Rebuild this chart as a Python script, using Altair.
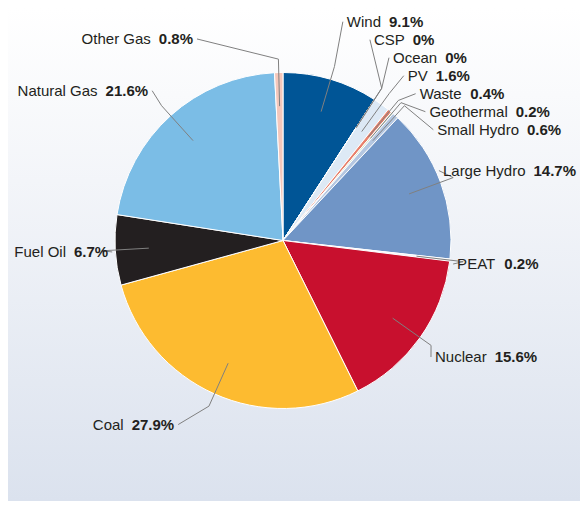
import math
import altair as alt
import pandas as pd

# ---------------- data ----------------
categories = ["Wind", "CSP", "Ocean", "PV", "Waste", "Geothermal", "Small Hydro",
              "Large Hydro", "PEAT", "Nuclear", "Coal", "Fuel Oil", "Natural Gas", "Other Gas"]
shares = [9.1, 0.0, 0.0, 1.6, 0.4, 0.2, 0.6, 14.7, 0.2, 15.6, 27.9, 6.7, 21.6, 0.8]
share_text = ["9.1%", "0%", "0%", "1.6%", "0.4%", "0.2%", "0.6%", "14.7%", "0.2%",
              "15.6%", "27.9%", "6.7%", "21.6%", "0.8%"]
slice_colors = ["#005596", "#ffffff", "#ffffff", "#dde9f5", "#e8806b", "#d5e3c4", "#b4c7e1",
                "#7095c6", "#eef1f7", "#c8102e", "#fdbb30", "#231f20", "#7bbde6", "#f4c7bb"]

# ---------------- layout constants ----------------
W, H = 572, 493
CX, CY, R = 275.0, 232.5, 168.0
FONT = "Liberation Sans"
FS = 15
TXT = "#231f20"
LINE = "#808080"

XDOM = [-CX / R, (W - CX) / R]
YDOM = [-(H - CY) / R, CY / R]
xs = alt.Scale(domain=XDOM, nice=False, zero=False)
ys = alt.Scale(domain=YDOM, nice=False, zero=False)

REG = {' ': 278, 'A': 667, 'C': 722, 'D': 722, 'E': 667, 'F': 611, 'G': 778, 'H': 722,
       'L': 556, 'N': 722, 'O': 778, 'P': 667, 'S': 667, 'T': 611, 'V': 667, 'W': 944,
       'a': 556, 'b': 556, 'c': 500, 'd': 556, 'e': 556, 'f': 278, 'g': 556, 'h': 556,
       'i': 222, 'l': 222, 'm': 833, 'n': 556, 'o': 556, 'r': 333, 's': 500, 't': 278,
       'u': 556, 'y': 500}
BOLD = {'.': 278, '%': 889}


def text_w(s, bold=False):
    tot = 0
    for ch in s:
        if bold:
            tot += BOLD.get(ch, 556)
        else:
            tot += REG.get(ch, 556)
    return tot / 1000.0 * FS


total = sum(shares)
mids = []
cum = 0.0
for v in shares:
    mids.append((cum + v / 2.0) / total * 2 * math.pi)
    cum += v


def pt(a, r):
    return CX + r * math.sin(a), CY - r * math.cos(a)


GAP = 18.0
NGAP = 8.0
YMIN, YMAX = 10.0, H - 10.0


def resolve(idx):
    ideal = {i: CY - 1.2 * R * math.cos(mids[i]) for i in idx}
    order = sorted(idx, key=lambda i: (ideal[i], mids[i]))
    clusters = [[i] for i in order]

    def place(cl):
        c = sum(ideal[i] for i in cl) / len(cl)
        top = c - (len(cl) - 1) * GAP / 2
        top = max(YMIN, min(top, YMAX - (len(cl) - 1) * GAP))
        return top

    changed = True
    while changed:
        changed = False
        for k in range(len(clusters) - 1):
            a, b = clusters[k], clusters[k + 1]
            bottom_a = place(a) + (len(a) - 1) * GAP
            if bottom_a + GAP > place(b):
                clusters[k] = a + b
                del clusters[k + 1]
                changed = True
                break
    ypos = {}
    for cl in clusters:
        top = place(cl)
        for j, i in enumerate(cl):
            ypos[i] = top + j * GAP
    return ypos


right = [i for i in range(len(shares)) if math.sin(mids[i]) > 0]
left = [i for i in range(len(shares)) if math.sin(mids[i]) <= 0]
ypos = {}
ypos.update(resolve(right))
ypos.update(resolve(left))

A, B = 175.0, 235.0
label_rows, leader_rows = [], []
for i, cat in enumerate(categories):
    y = ypos[i]
    dx = A * math.sqrt(max(0.0, 1 - ((y - CY) / B) ** 2))
    wn = text_w(cat)
    wv = text_w(share_text[i], bold=True)
    full = wn + NGAP + wv
    if i in right:
        x = min(CX + dx, W - full - 4)
        nx, vx, ex = x, x + wn + NGAP, x - 4
        side = "R"
    else:
        x = max(CX - dx, full + 4)
        vx, nx, ex = x, x - wv - NGAP, x + 4
        side = "L"
    label_rows.append({"cat": cat, "val": share_text[i], "side": side,
                       "nx": (nx - CX) / R, "vx": (vx - CX) / R, "y": (CY - y) / R})
    p1 = pt(mids[i], 0.8 * R)
    p2 = pt(mids[i], 1.08 * R)
    p3 = (ex, y)
    for k, (px, py) in enumerate([p1, p2, p3]):
        leader_rows.append({"cat": cat, "k": k, "x": (px - CX) / R, "y": (CY - py) / R})

pie_df = pd.DataFrame({"cat": categories, "share": shares, "idx": list(range(len(categories)))})
lab_df = pd.DataFrame(label_rows)
lead_df = pd.DataFrame(leader_rows)
bg_df = pd.DataFrame({"x0": [XDOM[0]], "x1": [XDOM[1]], "y0": [YDOM[0]], "y1": [YDOM[1]]})

grad = alt.LinearGradient(gradient="linear",
                          stops=[alt.GradientStop(color="#ffffff", offset=0),
                                 alt.GradientStop(color="#f3f5f9", offset=0.35),
                                 alt.GradientStop(color="#dbe2ee", offset=1)],
                          x1=0, x2=0, y1=0, y2=1)

bg = alt.Chart(bg_df).mark_rect(color=grad).encode(
    x=alt.X("x0:Q", scale=xs, axis=None), x2="x1:Q",
    y=alt.Y("y0:Q", scale=ys, axis=None), y2="y1:Q")

pie = alt.Chart(pie_df).mark_arc(outerRadius=R, x=CX, y=CY, stroke="white", strokeWidth=1).encode(
    theta=alt.Theta("share:Q", stack=True),
    order=alt.Order("idx:Q", sort="ascending"),
    color=alt.Color("cat:N", scale=alt.Scale(domain=categories, range=slice_colors), legend=None))

leaders = alt.Chart(lead_df).mark_line(color=LINE, strokeWidth=1).encode(
    x=alt.X("x:Q", scale=xs, axis=None), y=alt.Y("y:Q", scale=ys, axis=None),
    detail="cat:N", order="k:Q")


def txt(field, side, bold):
    return alt.Chart(lab_df).transform_filter(alt.datum.side == side).mark_text(
        align="left" if side == "R" else "right", baseline="middle", font=FONT, fontSize=FS,
        fontWeight="bold" if bold else "normal", color=TXT).encode(
        x=alt.X(("vx" if bold else "nx") + ":Q", scale=xs, axis=None),
        y=alt.Y("y:Q", scale=ys, axis=None),
        text=alt.Text(field + ":N"))


chart = alt.layer(
    bg, pie, leaders,
    txt("cat", "R", False), txt("val", "R", True),
    txt("cat", "L", False), txt("val", "L", True),
).properties(
    width=W, height=H, padding=0,
    autosize=alt.AutoSizeParams(type="none"),
).configure_view(stroke=None).configure(background="white")

chart.save("out.html", embed_options={"renderer": "svg", "actions": False})
